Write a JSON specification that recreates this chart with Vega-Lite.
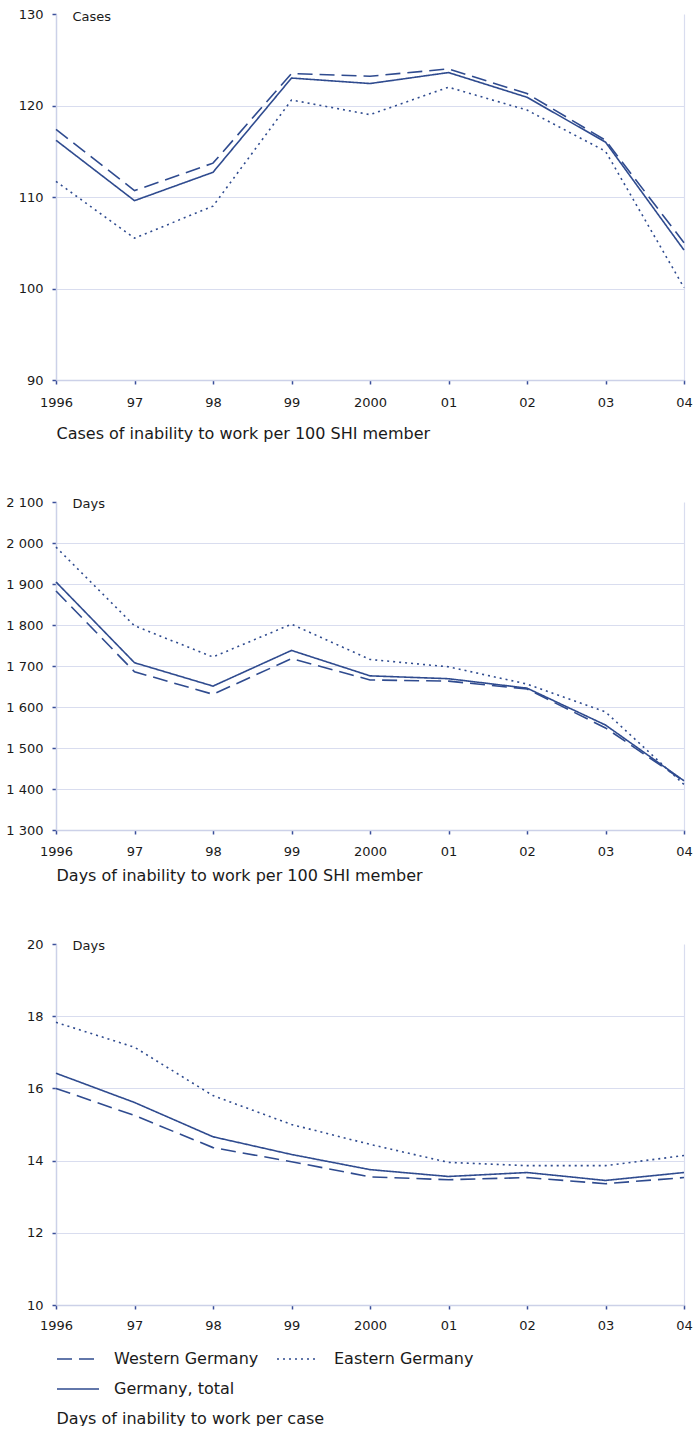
{
  "$schema": "https://vega.github.io/schema/vega-lite/v6.json",
  "padding": {"left": 5, "top": 8, "right": 10, "bottom": 0},
  "datasets": {
    "rows": [
      {"panel": "cases", "region": "Western Germany", "year": 1996, "value": 117.4},
      {"panel": "cases", "region": "Western Germany", "year": 1997, "value": 110.7},
      {"panel": "cases", "region": "Western Germany", "year": 1998, "value": 113.7},
      {"panel": "cases", "region": "Western Germany", "year": 1999, "value": 123.5},
      {"panel": "cases", "region": "Western Germany", "year": 2000, "value": 123.2},
      {"panel": "cases", "region": "Western Germany", "year": 2001, "value": 124.0},
      {"panel": "cases", "region": "Western Germany", "year": 2002, "value": 121.3},
      {"panel": "cases", "region": "Western Germany", "year": 2003, "value": 116.2},
      {"panel": "cases", "region": "Western Germany", "year": 2004, "value": 105.0},
      {"panel": "cases", "region": "Eastern Germany", "year": 1996, "value": 111.7},
      {"panel": "cases", "region": "Eastern Germany", "year": 1997, "value": 105.5},
      {"panel": "cases", "region": "Eastern Germany", "year": 1998, "value": 109.0},
      {"panel": "cases", "region": "Eastern Germany", "year": 1999, "value": 120.6},
      {"panel": "cases", "region": "Eastern Germany", "year": 2000, "value": 119.0},
      {"panel": "cases", "region": "Eastern Germany", "year": 2001, "value": 122.0},
      {"panel": "cases", "region": "Eastern Germany", "year": 2002, "value": 119.5},
      {"panel": "cases", "region": "Eastern Germany", "year": 2003, "value": 115.0},
      {"panel": "cases", "region": "Eastern Germany", "year": 2004, "value": 100.1},
      {"panel": "cases", "region": "Germany, total", "year": 1996, "value": 116.2},
      {"panel": "cases", "region": "Germany, total", "year": 1997, "value": 109.6},
      {"panel": "cases", "region": "Germany, total", "year": 1998, "value": 112.7},
      {"panel": "cases", "region": "Germany, total", "year": 1999, "value": 123.0},
      {"panel": "cases", "region": "Germany, total", "year": 2000, "value": 122.4},
      {"panel": "cases", "region": "Germany, total", "year": 2001, "value": 123.6},
      {"panel": "cases", "region": "Germany, total", "year": 2002, "value": 120.9},
      {"panel": "cases", "region": "Germany, total", "year": 2003, "value": 116.0},
      {"panel": "cases", "region": "Germany, total", "year": 2004, "value": 104.2},
      {"panel": "days", "region": "Western Germany", "year": 1996, "value": 1883},
      {"panel": "days", "region": "Western Germany", "year": 1997, "value": 1686},
      {"panel": "days", "region": "Western Germany", "year": 1998, "value": 1631},
      {"panel": "days", "region": "Western Germany", "year": 1999, "value": 1718},
      {"panel": "days", "region": "Western Germany", "year": 2000, "value": 1666},
      {"panel": "days", "region": "Western Germany", "year": 2001, "value": 1663},
      {"panel": "days", "region": "Western Germany", "year": 2002, "value": 1644},
      {"panel": "days", "region": "Western Germany", "year": 2003, "value": 1549},
      {"panel": "days", "region": "Western Germany", "year": 2004, "value": 1419},
      {"panel": "days", "region": "Eastern Germany", "year": 1996, "value": 1990},
      {"panel": "days", "region": "Eastern Germany", "year": 1997, "value": 1798},
      {"panel": "days", "region": "Eastern Germany", "year": 1998, "value": 1722},
      {"panel": "days", "region": "Eastern Germany", "year": 1999, "value": 1802},
      {"panel": "days", "region": "Eastern Germany", "year": 2000, "value": 1716},
      {"panel": "days", "region": "Eastern Germany", "year": 2001, "value": 1698},
      {"panel": "days", "region": "Eastern Germany", "year": 2002, "value": 1656},
      {"panel": "days", "region": "Eastern Germany", "year": 2003, "value": 1588},
      {"panel": "days", "region": "Eastern Germany", "year": 2004, "value": 1411},
      {"panel": "days", "region": "Germany, total", "year": 1996, "value": 1905},
      {"panel": "days", "region": "Germany, total", "year": 1997, "value": 1708},
      {"panel": "days", "region": "Germany, total", "year": 1998, "value": 1651},
      {"panel": "days", "region": "Germany, total", "year": 1999, "value": 1738},
      {"panel": "days", "region": "Germany, total", "year": 2000, "value": 1676},
      {"panel": "days", "region": "Germany, total", "year": 2001, "value": 1669},
      {"panel": "days", "region": "Germany, total", "year": 2002, "value": 1646},
      {"panel": "days", "region": "Germany, total", "year": 2003, "value": 1556},
      {"panel": "days", "region": "Germany, total", "year": 2004, "value": 1420},
      {"panel": "percase", "region": "Western Germany", "year": 1996, "value": 16.0},
      {"panel": "percase", "region": "Western Germany", "year": 1997, "value": 15.25},
      {"panel": "percase", "region": "Western Germany", "year": 1998, "value": 14.36},
      {"panel": "percase", "region": "Western Germany", "year": 1999, "value": 13.97},
      {"panel": "percase", "region": "Western Germany", "year": 2000, "value": 13.55},
      {"panel": "percase", "region": "Western Germany", "year": 2001, "value": 13.47},
      {"panel": "percase", "region": "Western Germany", "year": 2002, "value": 13.53},
      {"panel": "percase", "region": "Western Germany", "year": 2003, "value": 13.36},
      {"panel": "percase", "region": "Western Germany", "year": 2004, "value": 13.53},
      {"panel": "percase", "region": "Eastern Germany", "year": 1996, "value": 17.83},
      {"panel": "percase", "region": "Eastern Germany", "year": 1997, "value": 17.14},
      {"panel": "percase", "region": "Eastern Germany", "year": 1998, "value": 15.8},
      {"panel": "percase", "region": "Eastern Germany", "year": 1999, "value": 15.0},
      {"panel": "percase", "region": "Eastern Germany", "year": 2000, "value": 14.45},
      {"panel": "percase", "region": "Eastern Germany", "year": 2001, "value": 13.95},
      {"panel": "percase", "region": "Eastern Germany", "year": 2002, "value": 13.86},
      {"panel": "percase", "region": "Eastern Germany", "year": 2003, "value": 13.86},
      {"panel": "percase", "region": "Eastern Germany", "year": 2004, "value": 14.14},
      {"panel": "percase", "region": "Germany, total", "year": 1996, "value": 16.42},
      {"panel": "percase", "region": "Germany, total", "year": 1997, "value": 15.61},
      {"panel": "percase", "region": "Germany, total", "year": 1998, "value": 14.66},
      {"panel": "percase", "region": "Germany, total", "year": 1999, "value": 14.17},
      {"panel": "percase", "region": "Germany, total", "year": 2000, "value": 13.75},
      {"panel": "percase", "region": "Germany, total", "year": 2001, "value": 13.56},
      {"panel": "percase", "region": "Germany, total", "year": 2002, "value": 13.67},
      {"panel": "percase", "region": "Germany, total", "year": 2003, "value": 13.45},
      {"panel": "percase", "region": "Germany, total", "year": 2004, "value": 13.67}
    ]
  },
  "config": {
    "font": "DejaVu Sans",
    "view": {"stroke": null},
    "axis": {
      "domainColor": "#ccd1e8",
      "domainWidth": 1.5,
      "gridColor": "#d9ddef",
      "gridWidth": 1.2,
      "tickColor": "#3a4f9a",
      "tickSize": 4,
      "tickWidth": 1.5,
      "labelColor": "#1a1a1a",
      "labelFontSize": 13,
      "labelFlush": false,
      "titleColor": "#1a1a1a",
      "titleFontWeight": "normal"
    },
    "legend": {
      "labelFontSize": 16,
      "labelColor": "#1a1a1a"
    }
  },
  "resolve": {"legend": {"strokeDash": "independent"}},
  "spacing": 55,
  "vconcat": [
    {
      "width": 628,
      "height": 366,
      "data": {"name": "rows"},
      "transform": [{"filter": "datum.panel === 'cases'"}],
      "mark": {"type": "line", "color": "#2f4b8f", "strokeWidth": 1.6},
      "encoding": {
        "x": {
          "field": "year", "type": "quantitative",
          "scale": {"domain": [1996, 2004], "nice": false, "zero": false},
          "axis": {
            "values": [1996, 1997, 1998, 1999, 2000, 2001, 2002, 2003, 2004],
            "labelExpr": "datum.value === 1996 || datum.value === 2000 ? '' + datum.value : slice('0' + (datum.value % 100), -2)",
            "labelPadding": 12,
            "grid": true,
            "gridOpacity": {"condition": {"test": "datum.value === 2004", "value": 1}, "value": 0},
            "title": "Cases of inability to work per 100 SHI member",
            "titleFontSize": 16,
            "titleAlign": "left",
            "titleAnchor": "start",
            "titleBaseline": "middle",
            "titleX": 0,
            "titleY": 53
          }
        },
        "y": {
          "field": "value", "type": "quantitative",
          "scale": {"domain": [90, 130], "nice": false, "zero": false},
          "axis": {
            "values": [90, 100, 110, 120, 130],
            "labelPadding": 9,
            "grid": true,
            "gridOpacity": {"condition": {"test": "datum.value === 130", "value": 0}, "value": 1},
            "title": "Cases",
            "titleFontSize": 13,
            "titleAngle": 0,
            "titleAlign": "left",
            "titleBaseline": "middle",
            "titleX": 16,
            "titleY": 2
          }
        },
        "strokeDash": {
          "field": "region", "type": "nominal",
          "scale": {"domain": ["Western Germany", "Eastern Germany", "Germany, total"], "range": [[15, 7], [2, 4], [1, 0]]},
          "legend": null
        }
      }
    },
    {
      "spacing": 55,
      "resolve": {"legend": {"strokeDash": "independent"}},
      "vconcat": [
        {
          "width": 628,
          "height": 328,
          "data": {"name": "rows"},
          "transform": [{"filter": "datum.panel === 'days'"}],
          "mark": {"type": "line", "color": "#2f4b8f", "strokeWidth": 1.6},
          "encoding": {
            "x": {
              "field": "year", "type": "quantitative",
              "scale": {"domain": [1996, 2004], "nice": false, "zero": false},
              "axis": {
                "values": [1996, 1997, 1998, 1999, 2000, 2001, 2002, 2003, 2004],
                "labelExpr": "datum.value === 1996 || datum.value === 2000 ? '' + datum.value : slice('0' + (datum.value % 100), -2)",
                "labelPadding": 11,
                "grid": true,
                "gridOpacity": {"condition": {"test": "datum.value === 2004", "value": 1}, "value": 0},
                "title": "Days of inability to work per 100 SHI member",
                "titleFontSize": 16,
                "titleAlign": "left",
                "titleAnchor": "start",
                "titleBaseline": "middle",
                "titleX": 0,
                "titleY": 45
              }
            },
            "y": {
              "field": "value", "type": "quantitative",
              "scale": {"domain": [1300, 2100], "nice": false, "zero": false},
              "axis": {
                "values": [1300, 1400, 1500, 1600, 1700, 1800, 1900, 2000, 2100],
                "labelExpr": "replace(format(datum.value, ','), ',', ' ')",
                "labelPadding": 9,
                "grid": true,
                "gridOpacity": {"condition": {"test": "datum.value === 2100", "value": 0}, "value": 1},
                "title": "Days",
                "titleFontSize": 13,
                "titleAngle": 0,
                "titleAlign": "left",
                "titleBaseline": "middle",
                "titleX": 16,
                "titleY": 1
              }
            },
            "strokeDash": {
              "field": "region", "type": "nominal",
              "scale": {"domain": ["Western Germany", "Eastern Germany", "Germany, total"], "range": [[15, 7], [2, 4], [1, 0]]},
              "legend": null
            }
          }
        },
        {
          "width": 628,
          "height": 361,
          "data": {"name": "rows"},
          "transform": [{"filter": "datum.panel === 'percase'"}],
          "mark": {"type": "line", "color": "#2f4b8f", "strokeWidth": 1.6},
          "encoding": {
            "x": {
              "field": "year", "type": "quantitative",
              "scale": {"domain": [1996, 2004], "nice": false, "zero": false},
              "axis": {
                "values": [1996, 1997, 1998, 1999, 2000, 2001, 2002, 2003, 2004],
                "labelExpr": "datum.value === 1996 || datum.value === 2000 ? '' + datum.value : slice('0' + (datum.value % 100), -2)",
                "labelPadding": 10,
                "grid": true,
                "gridOpacity": {"condition": {"test": "datum.value === 2004", "value": 1}, "value": 0},
                "title": "Days of inability to work per case",
                "titleFontSize": 16,
                "titleAlign": "left",
                "titleAnchor": "start",
                "titleBaseline": "middle",
                "titleX": 0,
                "titleY": 113
              }
            },
            "y": {
              "field": "value", "type": "quantitative",
              "scale": {"domain": [10, 20], "nice": false, "zero": false},
              "axis": {
                "values": [10, 12, 14, 16, 18, 20],
                "labelPadding": 9,
                "grid": true,
                "gridOpacity": {"condition": {"test": "datum.value === 20", "value": 0}, "value": 1},
                "title": "Days",
                "titleFontSize": 13,
                "titleAngle": 0,
                "titleAlign": "left",
                "titleBaseline": "middle",
                "titleX": 16,
                "titleY": 1
              }
            },
            "strokeDash": {
              "field": "region", "type": "nominal",
              "scale": {"domain": ["Western Germany", "Eastern Germany", "Germany, total"], "range": [[15, 7], [2, 4], [1, 0]]},
              "legend": {
                "title": null,
                "orient": "none",
                "legendX": 0,
                "legendY": 393,
                "direction": "horizontal",
                "columns": 2,
                "columnPadding": 14,
                "rowPadding": -1,
                "symbolType": "stroke",
                "symbolSize": 1764,
                "symbolStrokeWidth": 1.6,
                "symbolStrokeColor": "#2f4b8f",
                "labelOffset": 14
              }
            }
          }
        }
      ]
    }
  ]
}
